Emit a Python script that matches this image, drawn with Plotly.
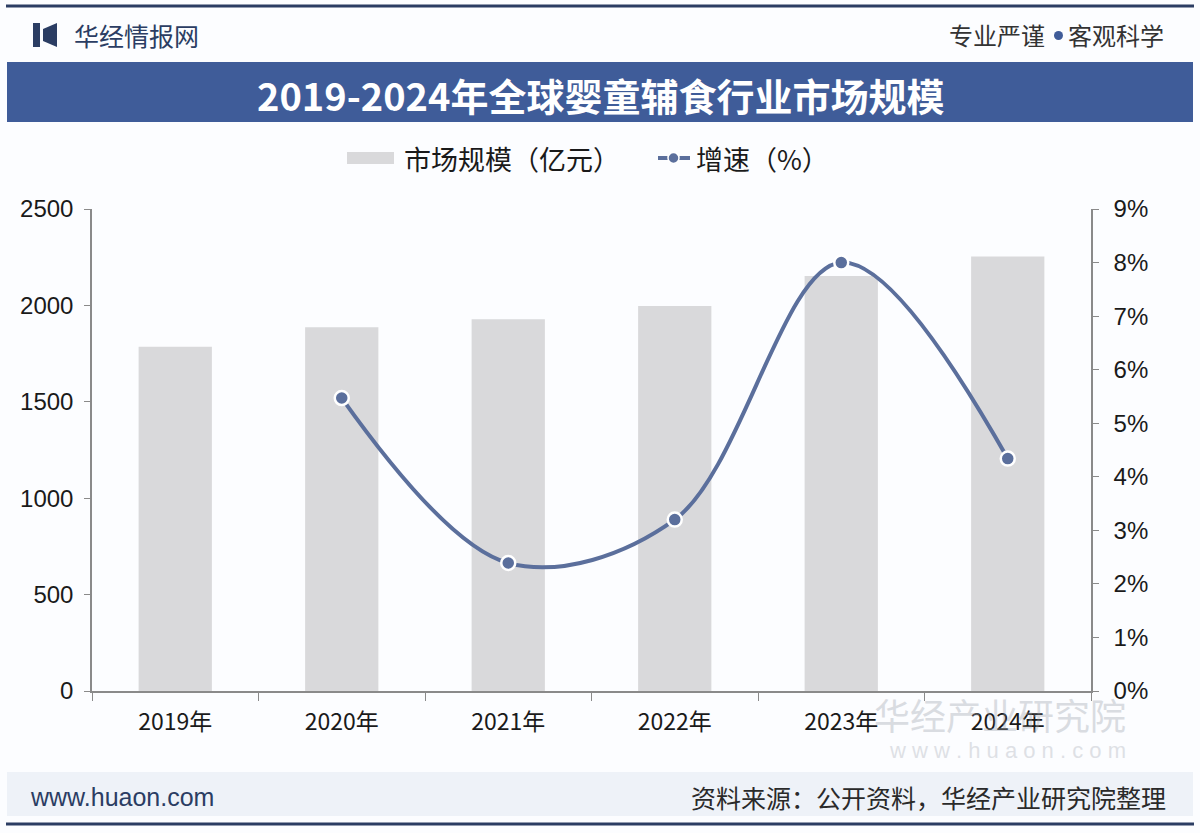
import plotly.graph_objects as go

# chart data
years = ["2019年", "2020年", "2021年", "2022年", "2023年", "2024年"]
market_size = [1786, 1887, 1928, 1997, 2153, 2254]  # 亿元
growth = [None, 5.47, 2.39, 3.20, 8.00, 4.34]  # %

title_text = "2019-2024年全球婴童辅食行业市场规模"
bar_name = "市场规模（亿元）"
line_name = "增速（%）"
source_text = "资料来源：公开资料，华经产业研究院整理"

W, H = 1200, 833
CJK = "Noto Sans CJK SC"
NAVY = "#2b3d63"
BAND = "#3f5c99"
LINE = "#5b6f9c"
BAR = "#d9d9db"


def px(x):
    return x / W


def py(y):
    return 1 - y / H


fig = go.Figure()
fig.add_trace(go.Bar(x=years, y=market_size, name=bar_name, marker_color=BAR,
                     width=0.44, yaxis="y"))
fig.add_trace(go.Scatter(x=years, y=growth, name=line_name, yaxis="y2",
                         mode="lines+markers",
                         line=dict(color=LINE, width=4, shape="spline", smoothing=1.0),
                         marker=dict(size=14, color=LINE, line=dict(color="white", width=2.5))))

axis_font = dict(family="Liberation Sans, " + CJK, size=24, color="#1a1a1a")

fig.update_layout(
    template="none",
    width=W, height=H,
    margin=dict(l=0, r=0, t=0, b=0, pad=0),
    paper_bgcolor="#fcfdff", plot_bgcolor="rgba(0,0,0,0)",
    showlegend=False,
    xaxis=dict(domain=[px(92), px(1091)], showline=True, linecolor="#8a8a8a", linewidth=1.5,
               ticks="outside", tickson="boundaries", ticklen=8, tickcolor="#8a8a8a",
               tickfont=dict(family=CJK, size=23, color="#1a1a1a"), showgrid=False,
               ticklabelstandoff=10, automargin=False),
    yaxis=dict(domain=[py(691), py(209)], range=[0, 2500], dtick=500, showgrid=False,
               showline=True, linecolor="#8a8a8a", linewidth=1.5, ticks="outside",
               ticklen=6, tickcolor="#8a8a8a", tickfont=axis_font, zeroline=False,
               ticklabelstandoff=6, automargin=False),
    yaxis2=dict(overlaying="y", side="right", range=[0, 9], dtick=1, ticksuffix="%",
                showgrid=False, showline=True, linecolor="#8a8a8a", linewidth=1.5,
                ticks="outside", ticklen=6, tickcolor="#8a8a8a", tickfont=axis_font,
                zeroline=False, ticklabelstandoff=10, automargin=False),
)

shapes = []
annotations = []

# header line and logo
shapes.append(dict(type="line", xref="paper", yref="paper", x0=px(6), x1=px(1194),
                   y0=py(6), y1=py(6), line=dict(color=NAVY, width=3)))
shapes.append(dict(type="path", xref="paper", yref="paper",
                   path=f"M {px(33)},{py(23)} L {px(40)},{py(23)} L {px(40)},{py(47)} L {px(33)},{py(47)} Z",
                   fillcolor=NAVY, line=dict(width=0)))
shapes.append(dict(type="path", xref="paper", yref="paper",
                   path=f"M {px(43)},{py(29)} L {px(57)},{py(23)} L {px(57)},{py(47)} L {px(43)},{py(41)} Z",
                   fillcolor=NAVY, line=dict(width=0)))
annotations.append(dict(text="华经情报网", x=px(72), y=py(35), xref="paper", yref="paper",
                        xanchor="left", yanchor="middle", showarrow=False,
                        font=dict(family=CJK, size=25, color=NAVY)))
annotations.append(dict(text="客观科学", x=px(1166), y=py(35), xref="paper", yref="paper",
                        xanchor="right", yanchor="middle", showarrow=False,
                        font=dict(family=CJK, size=24, color="#333333")))
shapes.append(dict(type="circle", xref="paper", yref="paper", x0=px(1054), x1=px(1063),
                   y0=py(40), y1=py(31), fillcolor=BAND, line=dict(width=0)))
annotations.append(dict(text="专业严谨", x=px(1047), y=py(35), xref="paper", yref="paper",
                        xanchor="right", yanchor="middle", showarrow=False,
                        font=dict(family=CJK, size=24, color="#333333")))

# title band
shapes.append(dict(type="rect", xref="paper", yref="paper", x0=px(7), x1=px(1193),
                   y0=py(122), y1=py(62), fillcolor=BAND, line=dict(width=0), layer="below"))
annotations.append(dict(text="<b>" + title_text + "</b>", x=0.5, y=py(95), xref="paper", yref="paper",
                        xanchor="center", yanchor="middle", showarrow=False,
                        font=dict(family=CJK, size=38, color="white")))

# manual legend
shapes.append(dict(type="rect", xref="paper", yref="paper", x0=px(347), x1=px(394),
                   y0=py(164), y1=py(152), fillcolor=BAR, line=dict(width=0)))
annotations.append(dict(text=bar_name, x=px(402), y=py(158), xref="paper", yref="paper",
                        xanchor="left", yanchor="middle", showarrow=False,
                        font=dict(family=CJK, size=27, color="#1a1a1a")))
shapes.append(dict(type="line", xref="paper", yref="paper", x0=px(658), x1=px(690),
                   y0=py(158), y1=py(158), line=dict(color=LINE, width=4)))
shapes.append(dict(type="circle", xref="paper", yref="paper", x0=px(668), x1=px(679),
                   y0=py(163.5), y1=py(152.5), fillcolor=LINE, line=dict(color="white", width=1.5)))
annotations.append(dict(text=line_name, x=px(694), y=py(158), xref="paper", yref="paper",
                        xanchor="left", yanchor="middle", showarrow=False,
                        font=dict(family=CJK, size=27, color="#1a1a1a")))

# watermark bottom right
annotations.append(dict(text="华经产业研究院", x=px(1128), y=py(714), xref="paper", yref="paper",
                        xanchor="right", yanchor="middle", showarrow=False, opacity=0.35,
                        font=dict(family=CJK, size=36, color="#9aa0aa")))
annotations.append(dict(text="w w w . h u a o n . c o m", x=px(1128), y=py(750), xref="paper", yref="paper",
                        xanchor="right", yanchor="middle", showarrow=False, opacity=0.3,
                        font=dict(family="Liberation Sans", size=22, color="#9aa0aa")))

# footer band
shapes.append(dict(type="rect", xref="paper", yref="paper", x0=px(7), x1=px(1193),
                   y0=py(816), y1=py(772), fillcolor="#eef2f8", line=dict(width=0), layer="below"))
annotations.append(dict(text="www.huaon.com", x=px(28), y=py(797), xref="paper", yref="paper",
                        xanchor="left", yanchor="middle", showarrow=False,
                        font=dict(family="Liberation Sans", size=25, color=NAVY)))
annotations.append(dict(text=source_text, x=px(1168), y=py(797), xref="paper", yref="paper",
                        xanchor="right", yanchor="middle", showarrow=False,
                        font=dict(family=CJK, size=25, color="#2a2a2a")))
shapes.append(dict(type="line", xref="paper", yref="paper", x0=px(6), x1=px(1194),
                   y0=py(824), y1=py(824), line=dict(color=NAVY, width=3)))

fig.update_layout(shapes=shapes, annotations=annotations)
fig.write_html("out.html", config={"displayModeBar": False},
               post_script="document.body.style.margin='0px';")
